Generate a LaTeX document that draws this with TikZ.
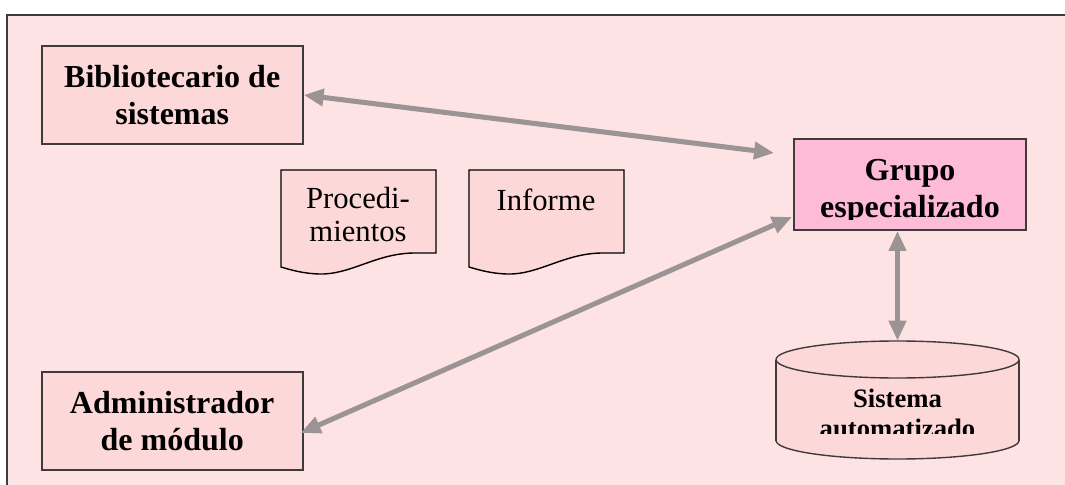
\documentclass[tikz,border=0pt]{standalone}
\usepackage{fontspec}
\setmainfont{Liberation Serif}
\usetikzlibrary{arrows.meta,calc}
\definecolor{bgpink}{HTML}{FEE3E4}
\definecolor{boxpink}{HTML}{FDD8D8}
\definecolor{grppink}{HTML}{FDBBD8}
\definecolor{edge}{HTML}{3F3B3B}
\definecolor{arrowgray}{HTML}{9C9494}
\begin{document}
\begin{tikzpicture}[x=0.75pt,y=-0.75pt,
  box/.style={draw=edge, line width=1.4pt, fill=boxpink, inner sep=0pt},
  boldtxt/.style={font=\bfseries\fontsize{24}{28}\selectfont, align=center, inner sep=0pt},
  plaintxt/.style={font=\fontsize{23}{24.75}\selectfont, align=center, inner sep=0pt},
  smalltxt/.style={font=\bfseries\fontsize{20}{22.5}\selectfont, inner sep=0pt},
  link/.style={draw=arrowgray, line width=3.8pt,
    {Triangle[length=15pt,width=12.5pt]}-{Triangle[length=15pt,width=12.5pt]}},
  docpaper/.style={draw=black, line width=1.05pt, fill=boxpink},
  docpage/.pic={\path[docpaper] (0,0) -- (155,0) -- (155,83) -- (134,83)
    .. controls (95,83) and (70,105) .. (38,104)
    .. controls (22,103.5) and (10,100) .. (0,97) -- cycle;},
]
\useasboundingbox (0,0) rectangle (1065,485);
% background panel
\fill[bgpink] (7,15) rectangle (1065,485);
\draw[edge, line width=1.6pt] (7,490) -- (7,15) -- (1070,15);

% actors
\node[box, boldtxt, minimum width=195.75pt, minimum height=73.5pt] (bib) at (172.2,95)
  {Bibliotecario de\\sistemas};
\node[box, boldtxt, minimum width=195.75pt, minimum height=73.5pt] (adm) at (172.2,421)
  {Administrador\\de módulo};

% specialised group
\node[box, fill=grppink, minimum width=174pt, minimum height=68.25pt] (grp) at (910,184.5) {};
\begin{scope}
  \clip (794,139) rectangle (1026,219.5);
  \node[boldtxt] (grptext) at (910,192) {Grupo\\especializado};
\end{scope}

% documents
\pic at (281,170) {docpage};
\pic at (469,170) {docpage};
\node[plaintxt] (proc) at (358,214.5) {Procedi-\\mientos};
\node[plaintxt, anchor=base] (inf) at (546,210) {Informe};

% automated system (cylinder)
\node[minimum width=182.25pt, minimum height=88.5pt, inner sep=0pt] (sys) at (897.5,400) {};
\draw[docpaper, draw=edge] (897.5,440.5) ellipse [x radius=121.5, y radius=18.5];
\fill[boxpink] (776,359.5) rectangle (1019,440.5);
\draw[edge, line width=1.05pt] (776,359.5) -- (776,440.5) (1019,359.5) -- (1019,440.5);
\draw[docpaper, draw=edge] (897.5,359.5) ellipse [x radius=121.5, y radius=18.5];
\begin{scope}
  \clip (776,380) rectangle (1019,433);
  \node[smalltxt, anchor=base] (systext) at (897.5,407) {Sistema};
  \node[smalltxt, anchor=base] (systext2) at (897.5,437) {automatizado};
\end{scope}

% connectors
\draw[link] (bib.east) -- ($(grp.west)+(-19,-31.5)$);
\draw[link] ($(adm.east)+(-3,12)$) -- ($(grp.west)+(-1,32.5)$);
\draw[link] (sys.north) -- (sys.north |- grp.south);
\end{tikzpicture}
\end{document}
